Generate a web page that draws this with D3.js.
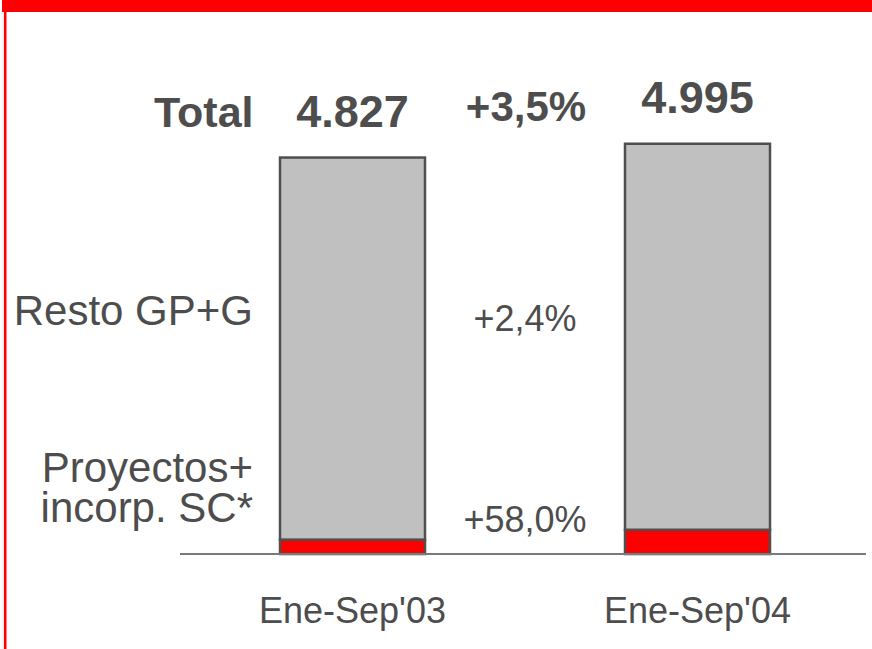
<!DOCTYPE html>
<html><head><meta charset="utf-8">
<script src="https://cdn.jsdelivr.net/npm/d3@7"></script>
<style>body{margin:0;background:#fff}svg{display:block}text{font-family:"Liberation Sans",Arial,sans-serif;fill:#4d4d4d}</style>
</head><body>
<script>
const categories = ["Ene-Sep'03", "Ene-Sep'04"];
const proyectos = [175, 295];
const resto = [4652, 4700];
const totals = [4827, 4995];
const totalLabels = ["4.827", "4.995"];
const growthLabels = ["+3,5%", "+2,4%", "+58,0%"];
const seriesLabels = ["Resto GP+G", "Proyectos+", "incorp. SC*"];

const W = 872, H = 649;
const svg = d3.select("body").append("svg").attr("width", W).attr("height", H);

// frame
svg.append("rect").attr("x", 2).attr("y", 0).attr("width", W - 2).attr("height", 12).attr("fill", "#ff0000");
svg.append("rect").attr("x", 2.5).attr("y", 12).attr("width", 1.5).attr("height", H - 12).attr("fill", "#e8e8e8");
svg.append("rect").attr("x", 4).attr("y", 12).attr("width", 2.5).attr("height", H - 12).attr("fill", "#ff0000");

const x = d3.scaleBand().domain(categories).range([180, 870]).paddingInner(0.5797).paddingOuter(0.28986);
const y = d3.scaleLinear().domain([0, 6000]).range([554, 61.2]);

const stack = d3.stack().keys(["proyectos", "resto"])(categories.map((c, i) => ({cat: c, proyectos: proyectos[i], resto: resto[i]})));
const colors = {proyectos: "#ff0000", resto: "#c0c0c0"};

stack.forEach(s => {
  svg.append("g").selectAll("rect").data(s).join("rect")
    .attr("x", d => x(d.data.cat))
    .attr("width", x.bandwidth())
    .attr("y", d => y(d[1]))
    .attr("height", d => y(d[0]) - y(d[1]))
    .attr("fill", colors[s.key])
    .attr("stroke", "#4f4f4f")
    .attr("stroke-width", 2.5);
});

// baseline
svg.append("line").attr("x1", 180).attr("x2", 866).attr("y1", 554).attr("y2", 554).attr("stroke", "#7a7a7a").attr("stroke-width", 2);

// category labels
svg.append("g").selectAll("text").data(categories).join("text")
  .attr("x", d => x(d) + x.bandwidth() / 2).attr("y", 623)
  .attr("text-anchor", "middle").attr("font-size", 36).text(d => d);

// totals
svg.append("text").attr("x", 154).attr("y", 127).attr("font-size", 43).attr("font-weight", "bold").text("Total");
svg.append("g").selectAll("text").data(totalLabels).join("text")
  .attr("x", (d, i) => x(categories[i]) + x.bandwidth() / 2)
  .attr("y", (d, i) => y(totals[i]) - 31)
  .attr("text-anchor", "middle").attr("font-size", 45).attr("font-weight", "bold").text(d => d);

// growth labels
const midX = (x(categories[0]) + x.bandwidth() + x(categories[1])) / 2;
svg.append("text").attr("x", midX + 1).attr("y", 121).attr("text-anchor", "middle").attr("font-size", 42).attr("font-weight", "bold").text(growthLabels[0]);
svg.append("text").attr("x", midX).attr("y", 331).attr("text-anchor", "middle").attr("font-size", 36).text(growthLabels[1]);
svg.append("text").attr("x", midX).attr("y", 532).attr("text-anchor", "middle").attr("font-size", 36).text(growthLabels[2]);

// series labels
svg.append("text").attr("x", 253).attr("y", 325).attr("text-anchor", "end").attr("font-size", 42).text(seriesLabels[0]);
const two = svg.append("text").attr("text-anchor", "end").attr("font-size", 42);
two.append("tspan").attr("x", 253).attr("y", 482).text(seriesLabels[1]);
two.append("tspan").attr("x", 253).attr("y", 522).text(seriesLabels[2]);
</script>
</body></html>
